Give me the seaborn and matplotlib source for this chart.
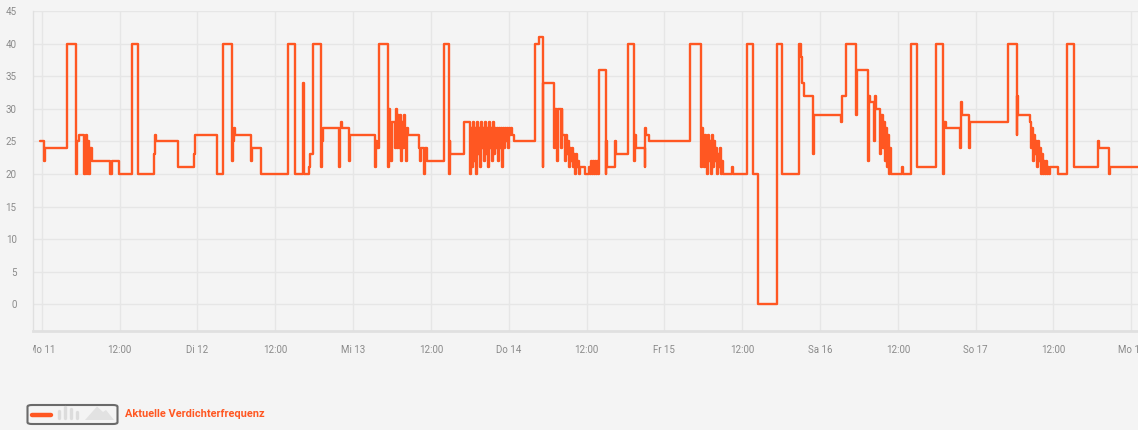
import matplotlib
matplotlib.use("Agg")
import matplotlib.pyplot as plt
import matplotlib.patches as mpatches
from matplotlib.lines import Line2D
from matplotlib.transforms import Bbox, TransformedBbox
import seaborn as sns
import pandas as pd

# ---- data: hours since Monday 11, 00:00 and compressor frequency ----
hours = [
    -0.26, 0.35, 0.46, 3.95, 5.29, 5.40, 5.70, 6.57, 6.68, 6.78, 6.88, 6.98, 7.09, 7.18, 7.29, 7.40,
    7.71, 10.53, 10.79, 11.96, 13.97, 14.89, 17.36, 17.47, 17.58, 21.06, 23.48, 23.64, 26.98, 28.00,
    29.39, 29.54, 29.65, 29.80, 32.22, 32.38, 33.77, 38.02, 39.05, 40.33, 40.44, 41.26, 41.41, 41.78,
    43.06, 43.26, 43.42, 45.84, 45.95, 46.15, 46.30, 47.38, 47.54, 51.39, 51.54, 51.70, 52.01, 53.44,
    53.55, 53.70, 53.86, 54.01, 54.47, 54.63, 54.78, 54.94, 55.09, 55.24, 55.40, 55.55, 55.71, 55.86,
    56.02, 56.17, 56.32, 56.48, 58.22, 58.33, 58.48, 58.94, 59.10, 59.36, 62.03, 62.80, 62.91, 63.00,
    65.16, 66.04, 66.19, 66.35, 66.50, 66.66, 66.81, 66.96, 67.12, 67.27, 67.43, 67.58, 67.74, 67.89,
    68.04, 68.20, 68.35, 68.51, 68.66, 68.82, 68.97, 69.12, 69.28, 69.43, 69.59, 69.74, 69.90, 70.05,
    70.20, 70.36, 70.51, 70.67, 70.82, 70.98, 71.13, 71.28, 71.44, 71.59, 71.75, 71.90, 72.06, 72.21,
    72.36, 72.56, 72.87, 76.06, 76.72, 77.25, 77.34, 78.99, 79.10, 79.45, 79.56, 80.07, 80.18, 80.27,
    80.68, 80.84, 80.99, 81.19, 81.30, 81.45, 81.61, 81.76, 81.92, 82.07, 82.23, 82.38, 82.53, 82.69,
    82.84, 83.00, 83.77, 84.43, 84.54, 84.69, 84.85, 85.00, 85.16, 85.31, 85.46, 85.62, 85.77, 85.93,
    86.96, 87.05, 87.11, 88.39, 88.50, 90.35, 91.37, 91.48, 91.58, 92.97, 93.07, 93.17, 93.64, 100.00,
    101.61, 101.81, 101.96, 102.12, 102.27, 102.43, 102.58, 102.73, 102.89, 103.04, 103.20, 103.35,
    103.51, 103.66, 103.81, 103.97, 104.12, 104.28, 104.43, 104.58, 104.74, 104.89, 105.09, 106.43,
    106.54, 108.79, 109.62, 110.49, 113.32, 114.10, 116.76, 117.02, 117.27, 117.53, 118.97, 119.08,
    123.19, 123.35, 124.01, 125.50, 125.66, 127.36, 127.45, 127.56, 127.71, 128.33, 128.43, 128.59,
    129.30, 129.41, 129.76, 129.87, 130.02, 130.18, 130.33, 130.49, 130.64, 130.79, 130.90, 132.69,
    132.80, 133.98, 135.00, 137.89, 139.01, 139.17, 139.38, 141.59, 141.74, 141.85, 142.97, 143.13,
    149.03, 150.33, 150.42, 150.53, 152.38, 152.53, 152.69, 152.84, 153.00, 153.15, 153.31, 153.46,
    153.61, 153.77, 153.92, 154.08, 154.23, 154.39, 154.54, 154.69, 154.85, 155.00, 155.16, 155.31,
    155.46, 156.74, 158.04, 159.21, 162.91, 163.02, 164.56, 164.67, 169.03,
]
freq = [
    25, 22, 24, 40, 20, 25, 26, 20, 25, 20, 26, 24, 20, 25, 20, 24,
    22, 20, 22, 20, 40, 20, 23, 26, 25, 21, 23, 26, 20, 40,
    22, 25, 27, 26, 22, 24, 20, 40, 20, 34, 20, 21, 23, 40,
    21, 25, 27, 21, 27, 28, 27, 22, 26, 21, 25, 24, 40, 21,
    30, 28, 22, 28, 24, 30, 24, 29, 24, 29, 22, 28, 24, 29,
    26, 22, 27, 26, 24, 22, 24, 20, 24, 22, 40, 20, 25, 23,
    28, 20, 27, 21, 28, 22, 27, 20, 28, 23, 27, 21, 28, 24,
    27, 22, 28, 23, 27, 21, 28, 24, 27, 22, 28, 23, 27, 24,
    27, 22, 27, 24, 27, 21, 27, 24, 27, 25, 27, 24, 27, 26,
    27, 26, 25, 40, 41, 21, 34, 24, 30, 22, 30, 24, 30, 26,
    22, 26, 23, 25, 21, 24, 22, 24, 21, 23, 20, 23, 21, 22,
    20, 21, 20, 21, 20, 22, 20, 22, 20, 22, 20, 22, 20, 36,
    20, 25, 21, 25, 23, 40, 22, 26, 24, 21, 27, 26, 25, 40,
    21, 27, 26, 21, 26, 24, 20, 26, 22, 25, 20, 26, 21,
    25, 22, 24, 20, 23, 21, 24, 20, 22, 20, 21,
    20, 40, 20, 0, 40, 20, 40, 38, 34, 32, 23, 29,
    28, 32, 40, 29, 36, 32, 22, 32, 31, 25, 32, 30,
    23, 29, 24, 28, 22, 27, 21, 26, 20, 24, 20, 21,
    20, 40, 21, 40, 20, 28, 27, 24, 31, 29, 24, 28,
    40, 26, 32, 29, 28, 24, 27, 22, 26, 23, 25, 21,
    25, 22, 24, 20, 23, 20, 22, 20, 22, 20, 21, 20,
    21, 20, 40, 21, 25, 24, 20, 21, 21,
]
tick_hours = list(range(0, 169, 12))
tick_labels = ["Mo 11", "12:00", "Di 12", "12:00", "Mi 13", "12:00", "Do 14", "12:00",
               "Fr 15", "12:00", "Sa 16", "12:00", "So 17", "12:00", "Mo 18"]
y_ticks = [0, 5, 10, 15, 20, 25, 30, 35, 40, 45]
series_name = "Aktuelle Verdichterfrequenz"

df = pd.DataFrame({"h": hours, "v": freq})

BG = "#f4f4f4"
LINE = "#ff5722"
GRID = "#e6e6e6"
TXT = "#8a8a8a"

sns.set_theme(style="whitegrid")
plt.rcParams["font.family"] = ["Roboto", "DejaVu Sans"]

W, H = 1138, 430
fig = plt.figure(figsize=(W / 100, H / 100), dpi=100, facecolor=BG)
ax = fig.add_axes([33.3 / W, 1 - 330.7 / H, 1 - 33.3 / W, (330.7 - 11) / H])
ax.set_facecolor(BG)

sns.lineplot(data=df, x="h", y="v", ax=ax, color=LINE, linewidth=1.7,
             drawstyle="steps-post", estimator=None, sort=False, legend=False)

ax.set_xlim(-1.30, 169.03)
ax.set_ylim(-4.03, 45)
ax.set_xticks(tick_hours)
ax.set_xticklabels(tick_labels)
ax.set_yticks(y_ticks)
ax.set_xlabel("")
ax.set_ylabel("")

ax.grid(True, color=GRID, linewidth=1.0)
ax.tick_params(axis="both", length=4, width=1, color="#e3e3e3", labelcolor=TXT, labelsize=7)
ax.tick_params(axis="x", pad=6)
ax.tick_params(axis="y", pad=8)
for s in ["top", "right"]:
    ax.spines[s].set_visible(False)
ax.spines["left"].set_color("#e0e0e0")
ax.spines["left"].set_linewidth(1.0)
ax.spines["bottom"].set_color("#e0e0e0")
ax.spines["bottom"].set_linewidth(2.0)

# clip the first tick label at the plot's left edge like the reference
clipbox = TransformedBbox(Bbox([[33.3 / W, 0], [1, 1]]), fig.transFigure)
lbl0 = ax.get_xticklabels()[0]
lbl0.set_clip_on(True)
lbl0.set_clip_box(clipbox)

# ---- legend (bottom-left) ----
def fx(px):
    return px / W

def fy(py):
    return 1 - py / H

box = mpatches.FancyBboxPatch((fx(27.5), fy(424)), fx(117.5) - fx(27.5), fy(405) - fy(424),
                              boxstyle="round,pad=0,rounding_size=0.004",
                              transform=fig.transFigure, facecolor=BG,
                              edgecolor="#6a6a6a", linewidth=1.5)
fig.patches.append(box)
fig.lines.append(Line2D([fx(32), fx(51)], [fy(414.5), fy(414.5)], transform=fig.transFigure,
                        color=LINE, linewidth=3.2, solid_capstyle="round"))
for bx, top in [(59, 411), (65, 407), (71, 409), (77, 412)]:
    fig.lines.append(Line2D([fx(bx), fx(bx)], [fy(top), fy(418)], transform=fig.transFigure,
                            color="#dcdcdc", linewidth=2.4, solid_capstyle="round"))
mountain = mpatches.Polygon([(fx(85), fy(420)), (fx(97), fy(406.5)), (fx(103), fy(412)),
                             (fx(106), fy(410)), (fx(114), fy(420))], closed=True,
                            transform=fig.transFigure, facecolor="#e2e2e2", edgecolor="none")
fig.patches.append(mountain)
fig.text(fx(125), fy(414), series_name, color=LINE, fontsize=7.9, fontweight="bold",
         va="center", ha="left")

fig.savefig("out.png", dpi=100, facecolor=BG)
